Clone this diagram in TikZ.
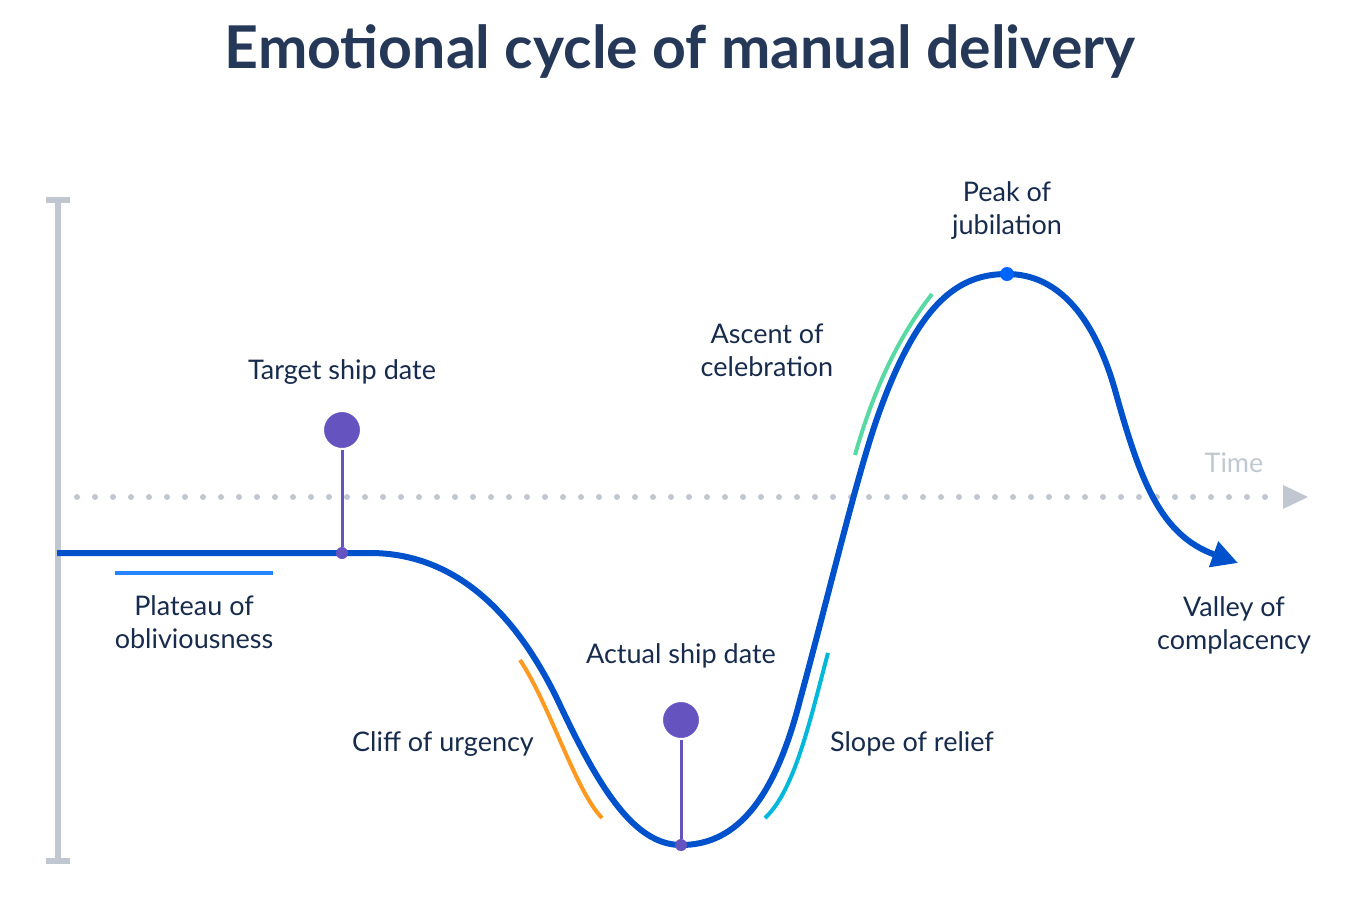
\documentclass[tikz,border=0pt]{standalone}
\usepackage{fontspec}
\setmainfont{Lato}
\usetikzlibrary{arrows.meta,positioning}
\definecolor{ink}{HTML}{172B4D}
\definecolor{titleink}{HTML}{253858}
\definecolor{axisgrey}{HTML}{C1C7D0}
\definecolor{curveblue}{HTML}{0052CC}
\definecolor{peakblue}{HTML}{0065FF}
\definecolor{plateaublue}{HTML}{2684FF}
\definecolor{pinpurple}{HTML}{6554C0}
\definecolor{cliffor}{HTML}{FF991F}
\definecolor{reliefcyan}{HTML}{00B8D9}
\definecolor{ascentgreen}{HTML}{57D9A3}

\begin{document}
\begin{tikzpicture}[x=1pt,y=-1pt,
   lbl/.style={text=ink,align=center,font=\fontsize{27}{33}\selectfont,inner sep=0pt},
   pinhead/.style={circle,fill=pinpurple,draw=white,line width=2pt,minimum size=38pt,inner sep=0pt},
   pinfoot/.style={circle,fill=pinpurple,minimum size=12pt,inner sep=0pt},
   stem/.style={pinpurple,line width=3pt},
   marker/.style={line width=4pt}]
   \useasboundingbox (0,0) rectangle (1355,903);
   % title
   \node [text=titleink,font=\fontsize{59}{62}\selectfont\bfseries] (title) at (680,52) {Emotional cycle of manual delivery};
   % axes
   \coordinate (ytop) at (58,200);
   \coordinate (ybot) at (58,861);
   \draw [axisgrey,line width=6pt] (ytop) -- (ybot);
   \draw [axisgrey,line width=6pt] ([xshift=-12pt]ytop) -- ([xshift=12pt]ytop);
   \draw [axisgrey,line width=6pt] ([xshift=-12pt]ybot) -- ([xshift=12pt]ybot);
   \coordinate (tstart) at (77,497);
   \coordinate (tend) at (1280,497);
   \draw [axisgrey,line width=6pt,line cap=round,dash pattern=on 0pt off 18pt] (tstart) -- (tend);
   \fill [axisgrey] (1283,485) -- (1308,497) -- (1283,509) -- cycle;
   \node [text=axisgrey,font=\fontsize{27}{33}\selectfont,inner sep=0pt] (time) at (1234,463) {Time};
   % the cycle
   \draw [curveblue,line width=6pt,-{Triangle[length=26pt,width=26pt]}]
      (57,553) -- (370,553)
      .. controls (460,553) and (520,620) .. (560,705)
      .. controls (600,790) and (635,845) .. (681,845)
      .. controls (730,845) and (772,810) .. (800,700)
      .. controls (830,590) and (858,470) .. (880,410)
      .. controls (920,300) and (960,274) .. (1007,274)
      .. controls (1060,274) and (1095,320) .. (1115,390)
      .. controls (1140,480) and (1160,535) .. (1238,563);
   % phase markers
   \draw [plateaublue,marker] (115,573) -- (273,573);
   \draw [cliffor,marker] (520,660) .. controls (550,705) and (575,790) .. (602,818);
   \draw [reliefcyan,marker] (828,653) .. controls (810,720) and (795,790) .. (765,818);
   \draw [ascentgreen,marker] (855,455) .. controls (875,385) and (900,335) .. (932,294);
   % pins
   \node [pinfoot] (targetfoot) at (342,553) {};
   \node [pinhead] (target) at (342,430) {};
   \draw [stem] (target) -- (targetfoot);
   \node [pinfoot] (actualfoot) at (681,845) {};
   \node [pinhead] (actual) at (681,720) {};
   \draw [stem] (actual) -- (actualfoot);
   \node [circle,fill=peakblue,minimum size=14pt,inner sep=0pt] (peak) at (1007,274) {};
   % labels
   \node [lbl] (targetlbl) at (342,372) {Target ship date};
   \node [lbl] (plateau) at (194,622) {Plateau of\\obliviousness};
   \node [lbl] (cliff) at (443,744) {Cliff of urgency};
   \node [lbl] (actuallbl) at (681,656) {Actual ship date};
   \node [lbl] (relief) at (912,744) {Slope of relief};
   \node [lbl] (ascent) at (767,350) {Ascent of\\celebration};
   \node [lbl] (peaklbl) at (1007,211) {Peak of\\jubilation};
   \node [lbl] (valley) at (1234,625) {Valley of\\complacency};
\end{tikzpicture}
\end{document}
